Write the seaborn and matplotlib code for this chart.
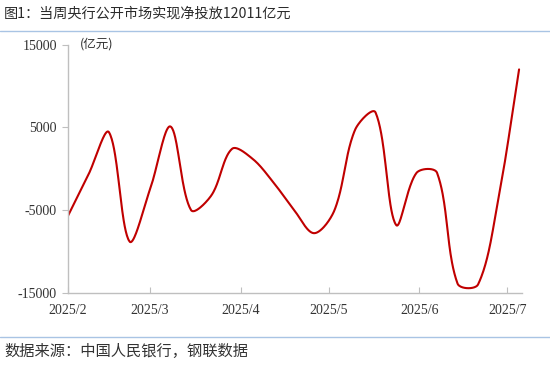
import numpy as np
import pandas as pd
import matplotlib
matplotlib.use("Agg")
import matplotlib.pyplot as plt
import matplotlib.dates as mdates
import seaborn as sns
from matplotlib.lines import Line2D

# 每周公开市场净投放（亿元）
dates = ["2025-02-01", "2025-02-08", "2025-02-15", "2025-02-22",
         "2025-03-01", "2025-03-08", "2025-03-15", "2025-03-22", "2025-03-29",
         "2025-04-05", "2025-04-12", "2025-04-19", "2025-04-26",
         "2025-05-03", "2025-05-10", "2025-05-17", "2025-05-24", "2025-05-31",
         "2025-06-07", "2025-06-14", "2025-06-21", "2025-06-28",
         "2025-07-05"]
values = [-5700, -700, 4400, -8800,
          -2500, 5100, -5000, -3200, 2400,
          1200, -1600, -4900, -7800,
          -5000, 4700, 6800, -6800, -500,
          -500, -13900, -14000, -3500,
          12011]
month_ticks = ["2025-02-01", "2025-03-01", "2025-04-01",
               "2025-05-01", "2025-06-01", "2025-07-01"]
month_labels = ["2025/2", "2025/3", "2025/4", "2025/5", "2025/6", "2025/7"]
y_ticks = [-15000, -5000, 5000, 15000]

title = "图1：当周央行公开市场实现净投放12011亿元"
source = "数据来源：中国人民银行，钢联数据"
unit = "(亿元)"


def excel_smooth(x, y, sx, sy, n=40):
    # Bezier smoothing similar to Excel's "smoothed line", done in pixel-like units
    P = np.column_stack([np.asarray(x) * sx, np.asarray(y) / sy])
    out = []
    for i in range(len(P) - 1):
        p0, p3 = P[i], P[i + 1]
        prev = P[i - 1] if i > 0 else P[i]
        nxt = P[i + 2] if i + 2 < len(P) else P[i + 1]
        l0 = np.linalg.norm(p0 - prev)
        l1 = np.linalg.norm(p3 - p0)
        l2 = np.linalg.norm(nxt - p3)
        c1 = p0 + (p3 - prev) / 3 * l1 / (l0 + l1)
        c2 = p3 - (nxt - p0) / 3 * l1 / (l1 + l2)
        t = np.linspace(0, 1, n)[:, None]
        seg = ((1 - t) ** 3 * p0 + 3 * (1 - t) ** 2 * t * c1
               + 3 * (1 - t) * t ** 2 * c2 + t ** 3 * p3)
        out.append(seg if i == 0 else seg[1:])
    out = np.vstack(out)
    return out[:, 0] / sx, out[:, 1] * sy


sns.set_theme(style="white")
plt.rcParams["font.family"] = ["Noto Sans CJK SC", "DejaVu Sans"]

fig = plt.figure(figsize=(5.5, 3.67), dpi=100)
ax = fig.add_axes([68 / 550, 74.3 / 367, 454 / 550, 248 / 367])

xnum = mdates.date2num(pd.to_datetime(dates))
sx_, sy_ = excel_smooth(xnum, values, 2.93, 121.0)
df = pd.DataFrame({"x": sx_, "y": sy_})
sns.lineplot(data=df, x="x", y="y", sort=False, estimator=None,
             color="#c00000", linewidth=1.5, ax=ax)

ax.set_xlim(mdates.date2num(pd.Timestamp("2025-02-01")),
            mdates.date2num(pd.Timestamp("2025-07-06")))
ax.set_ylim(-15000, 15000)
ax.set_xticks(mdates.date2num(pd.to_datetime(month_ticks)))
ax.set_xticklabels(month_labels)
ax.set_yticks(y_ticks)
ax.set_yticklabels([str(v) for v in y_ticks])
ax.set_xlabel("")
ax.set_ylabel("")

for s in ["top", "right"]:
    ax.spines[s].set_visible(False)
for s in ["left", "bottom"]:
    ax.spines[s].set_color("#bfbfbf")
    ax.spines[s].set_linewidth(1.0)

ax.tick_params(axis="x", direction="in", length=4, width=0.8, color="#bfbfbf",
               pad=8, labelsize=10, labelcolor="#333333", bottom=True)
ax.tick_params(axis="y", direction="out", length=4, width=0.8, color="#bfbfbf",
               pad=4, labelsize=10, labelcolor="#333333", left=True)
for lab in ax.get_xticklabels() + ax.get_yticklabels():
    lab.set_family(["Liberation Serif", "DejaVu Serif"])

fig.text(80 / 550, 1 - 44.5 / 367, unit, ha="left", va="center",
         fontsize=9, color="#333333")
fig.text(4 / 550, 1 - 14 / 367, title, ha="left", va="center",
         fontsize=10.2, color="#2b2b2b")
fig.text(4 / 550, 1 - 351 / 367, source, ha="left", va="center",
         fontsize=11, color="#333333")

fig.add_artist(Line2D([0, 1], [1 - 30.5 / 367] * 2, color="#a9c4e4", lw=1.0,
                      transform=fig.transFigure))
fig.add_artist(Line2D([0, 1], [1 - 337 / 367] * 2, color="#a9c4e4", lw=1.0,
                      transform=fig.transFigure))

fig.savefig("out.png", dpi=100)
